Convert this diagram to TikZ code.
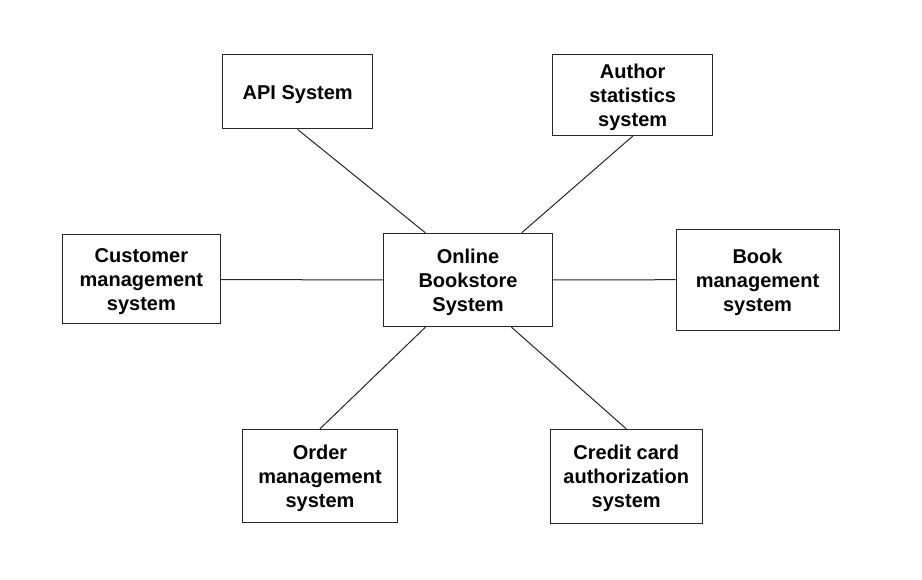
\documentclass[tikz,border=0pt]{standalone}
\usepackage{fontspec}
\setmainfont{Liberation Sans}
\usetikzlibrary{calc}
\begin{document}
\begin{tikzpicture}[x=1pt,y=-1pt,
  sysbox/.style={draw=black!85, line width=1pt, fill=white, inner sep=0pt},
  lbl/.style={inner sep=0pt, align=center, font=\fontsize{20}{24}\selectfont\bfseries},
  link/.style={draw=black!85, line width=1pt}]
\useasboundingbox (0,0) rectangle (922,580);
\node[sysbox, minimum width=150pt, minimum height=74pt] (api) at (297.7,92) {};
\node[sysbox, minimum width=160pt, minimum height=80.7pt] (author) at (632.7,95.3) {};
\node[sysbox, minimum width=157.3pt, minimum height=89pt] (cust) at (141.4,279.5) {};
\node[sysbox, minimum width=169.4pt, minimum height=93.4pt] (on) at (468,280) {};
\node[sysbox, minimum width=163pt, minimum height=100.7pt] (book) at (757.5,279.7) {};
\node[sysbox, minimum width=154.6pt, minimum height=93.4pt] (order) at (320,476) {};
\node[sysbox, minimum width=152.3pt, minimum height=94pt] (credit) at (626.2,476.3) {};
\node[lbl] (apit) at ($(api.center)+(0,2.5)$) {API System};
\node[lbl] (authort) at ($(author.center)+(0,2.5)$) {Author\\statistics\\system};
\node[lbl] (custt) at ($(cust.center)+(0,2.5)$) {Customer\\management\\system};
\node[lbl] (ont) at ($(on.center)+(0,2.5)$) {Online\\Bookstore\\System};
\node[lbl] (bookt) at ($(book.center)+(0,2.5)$) {Book\\management\\system};
\node[lbl] (ordert) at ($(order.center)+(0,2.5)$) {Order\\management\\system};
\node[lbl] (creditt) at ($(credit.center)+(0,2.5)$) {Credit card\\authorization\\system};
\coordinate (ontl) at ($(on.north west)!0.25!(on.north east)$);
\coordinate (ontr) at ($(on.north west)!0.815!(on.north east)$);
\coordinate (onbl) at ($(on.south west)!0.25!(on.south east)$);
\coordinate (onbr) at ($(on.south west)!0.755!(on.south east)$);
\draw[link] (api.south) -- (ontl);
\draw[link] (author.south) -- (ontr);
\draw[link] (cust.east) -- (on.west);
\draw[link] (on.east) -- (book.west);
\draw[link] (order.north) -- (onbl);
\draw[link] (credit.north) -- (onbr);
\end{tikzpicture}
\end{document}
